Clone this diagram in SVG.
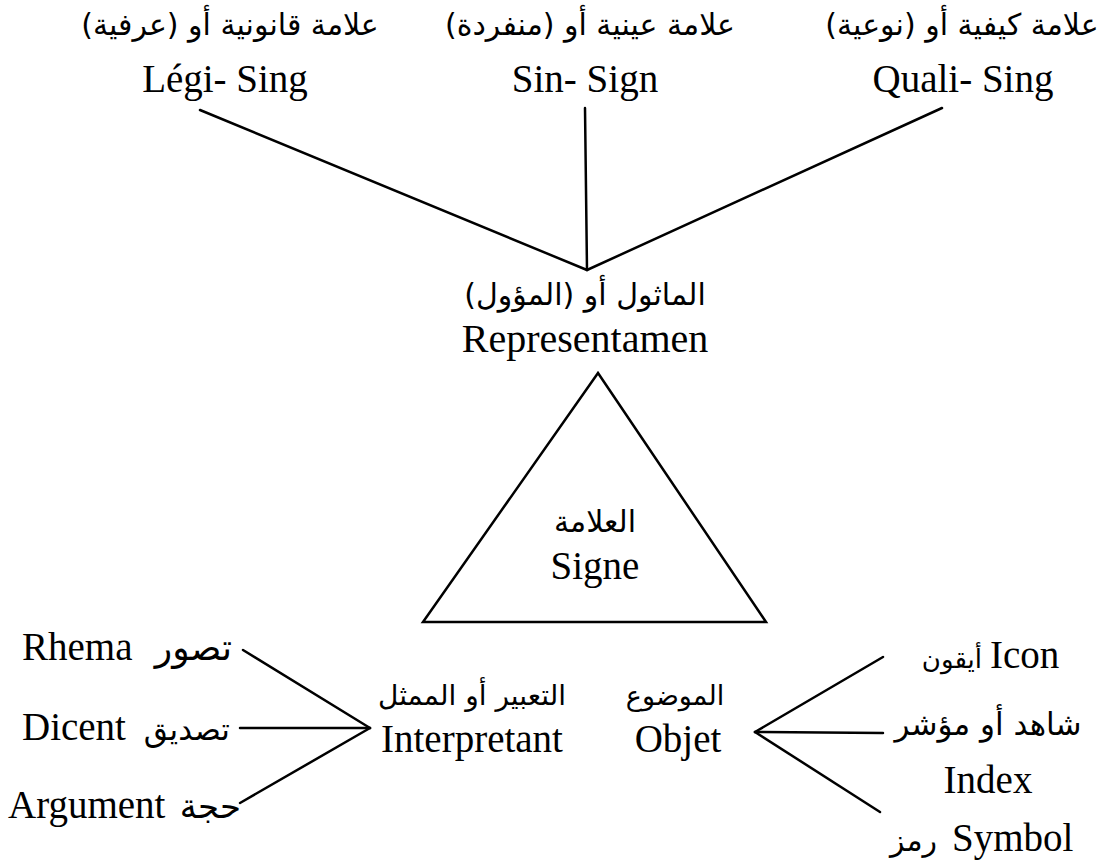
<svg xmlns="http://www.w3.org/2000/svg" width="1111" height="860" viewBox="0 0 1111 860">
<style>
.t{font-family:"Liberation Serif","DejaVu Sans",serif;font-size:39px;fill:#000}
.a{font-family:"DejaVu Sans","Liberation Sans",sans-serif;font-size:30px;fill:#000}
.c{text-anchor:middle}
.e{text-anchor:end}
.ln{stroke:#000;stroke-width:2.5;fill:none;stroke-linecap:round}
</style>
<rect width="1111" height="860" fill="#fff"/>
<g id="connectors">
<line class="ln" x1="200" y1="110" x2="587" y2="270"/>
<line class="ln" x1="585" y1="108" x2="587" y2="270"/>
<line class="ln" x1="942" y1="108" x2="587" y2="270"/>
<line class="ln" x1="243" y1="650" x2="370" y2="728"/>
<line class="ln" x1="240" y1="728" x2="370" y2="728"/>
<line class="ln" x1="240" y1="803" x2="370" y2="728"/>
<line class="ln" x1="883" y1="657" x2="755" y2="732"/>
<line class="ln" x1="883" y1="733" x2="755" y2="732"/>
<line class="ln" x1="880" y1="812" x2="755" y2="732"/>
</g>
<g id="legisign">
<text class="a c" x="230" y="35" direction="rtl">علامة قانونية أو (عرفية)</text>
<text class="t c" x="225" y="92">Légi- Sing</text>
</g>
<g id="sinsign">
<text class="a c" x="590" y="35" direction="rtl">علامة عينية أو (منفردة)</text>
<text class="t c" x="585" y="92">Sin- Sign</text>
</g>
<g id="qualisign">
<text class="a c" x="962" y="35" direction="rtl">علامة كيفية أو (نوعية)</text>
<text class="t c" x="963" y="92">Quali- Sing</text>
</g>
<g id="representamen">
<text class="a c" x="585" y="305" direction="rtl">الماثول أو (المؤول)</text>
<text class="t c" x="585" y="352" style="font-size:40px">Representamen</text>
</g>
<g id="signe">
<polygon class="ln" points="598,373 423,622 766,622" stroke-linejoin="miter"/>
<text class="a c" x="595" y="532" direction="rtl">العلامة</text>
<text class="t c" x="595" y="579">Signe</text>
</g>
<g id="interpretant">
<text class="a c" x="472" y="705" direction="rtl" style="font-size:28px">التعبير أو الممثل</text>
<text class="t c" x="472" y="752">Interpretant</text>
</g>
<g id="objet">
<text class="a c" x="675" y="705" direction="rtl" style="font-size:27px">الموضوع</text>
<text class="t c" x="678" y="752">Objet</text>
</g>
<g id="rhema">
<text class="t" x="22" y="660">Rhema</text>
<text class="a e" x="232" y="660" style="font-size:36px">تصور</text>
</g>
<g id="dicent">
<text class="t" x="22" y="740">Dicent</text>
<text class="a e" x="230" y="740" style="font-size:31px">تصديق</text>
</g>
<g id="argument">
<text class="t" x="8" y="818">Argument</text>
<text class="a e" x="241" y="818" style="font-size:34px">حجة</text>
</g>
<g id="icon">
<text class="a e" x="982" y="668" style="font-size:26px">أيقون</text>
<text class="t" x="990" y="668">Icon</text>
</g>
<g id="index">
<text class="a c" x="988" y="735" direction="rtl" style="font-size:31px">شاهد أو مؤشر</text>
<text class="t c" x="988" y="793">Index</text>
</g>
<g id="symbol">
<text class="a" x="890" y="851">رمز</text>
<text class="t" x="952" y="851">Symbol</text>
</g>
</svg>
